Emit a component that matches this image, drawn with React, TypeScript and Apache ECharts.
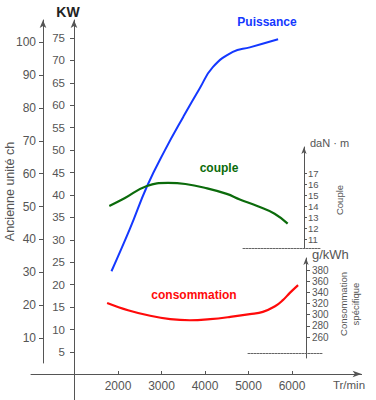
import React, { useEffect, useRef } from "react";
import * as echarts from "echarts";

// ---- data ----
const powerRpm = [1850, 2280, 2670, 3080, 3500, 3880, 4180, 4640, 5030, 5680];
const powerKw = [23.0, 32.6, 42.0, 50.0, 57.4, 63.8, 68.5, 71.9, 72.9, 74.7];

const torqueRpm = [1800, 2150, 2650, 3150, 3550, 4050, 4500, 4800, 5200, 5600, 5900];
const torqueDaNm = [14.0, 14.7, 15.8, 16.1, 16.0, 15.6, 15.1, 14.6, 14.0, 13.3, 12.4];

const consRpm = [1750, 2230, 2740, 3200, 3650, 4120, 4580, 5030, 5330, 5610, 5790, 5950, 6140];
const consGkwh = [321, 308, 298, 292, 290, 292, 296, 301, 305, 315, 326, 339, 353];

const rpmTicks = [2000, 3000, 4000, 5000, 6000];
const kwTicks = [5, 10, 15, 20, 25, 30, 35, 40, 45, 50, 55, 60, 65, 70, 75];
const chTicks = [10, 20, 30, 40, 50, 60, 70, 80, 90, 100];
const torqueTicks = [11, 12, 13, 14, 15, 16, 17];
const consTicks = [260, 280, 300, 320, 340, 360, 380];

// ---- layout ----
const FONT = "'Liberation Sans', Arial, sans-serif";
const AXIS_COLOR = "#555";
const TEXT_COLOR = "#555";
const GRID_LEFT = 31;
const GRID_WIDTH = 330.6;
const RPM_MAX = 7600;
const PX_PER_RPM = GRID_WIDTH / RPM_MAX;
const TORQUE_AXIS_X = 304;
const CONS_AXIS_X = 306;

function yRange(topPx: number, bottomPx: number, zeroPx: number, pxPerUnit: number) {
  return { min: (zeroPx - bottomPx) / pxPerUnit, max: (zeroPx - topPx) / pxPerUnit };
}

const hiddenX = (gridIndex: number, max: number) => ({
  type: "value",
  gridIndex,
  min: 0,
  max,
  show: false,
  axisLine: { onZero: false },
  splitLine: { show: false },
});

const hiddenY = (gridIndex: number) => ({
  type: "value",
  gridIndex,
  min: 0,
  max: 1,
  show: false,
  axisLine: { onZero: false },
  splitLine: { show: false },
});

const arrowLine = (size: number[]) => ({
  show: true,
  onZero: false,
  symbol: ["none", "arrow"],
  symbolSize: size,
  lineStyle: { color: AXIS_COLOR, width: 1 },
});

const textStyle = (text: string, font: string, fill: string, align = "center") => ({
  text,
  font,
  fill,
  align,
  verticalAlign: "middle",
  textAlign: align,
  textVerticalAlign: "middle",
});

export default function App() {
  const ref = useRef<HTMLDivElement>(null);

  useEffect(() => {
    if (!ref.current) return;
    const chart = echarts.init(ref.current, undefined, { renderer: "svg" });

    const kwR = yRange(20, 400, 374.4, 4.486);
    const chR = yRange(20, 363, 371, 3.289);
    const tqR = yRange(147, 248, 360, 11);
    const csR = yRange(258, 358, 482.17, 0.5583);

    const tqWidth = TORQUE_AXIS_X - GRID_LEFT;
    const csWidth = CONS_AXIS_X - GRID_LEFT;

    const baseGrid = { left: GRID_LEFT, outerBoundsMode: "none", containLabel: false };

    const option: any = {
      animation: false,
      textStyle: { fontFamily: FONT },
      grid: [
        { ...baseGrid, width: GRID_WIDTH, top: 300, height: 74 }, // 0: rpm axis
        { ...baseGrid, width: GRID_WIDTH, top: 20, height: 380 }, // 1: kW
        { ...baseGrid, width: GRID_WIDTH, top: 20, height: 343 }, // 2: ch
        { ...baseGrid, width: tqWidth, top: 147, height: 101 }, // 3: torque
        { ...baseGrid, width: csWidth, top: 258, height: 100 }, // 4: consumption
        { left: 243, width: 77, top: 247, height: 1, outerBoundsMode: "none" }, // 5
        { left: 248, width: 74, top: 352, height: 1, outerBoundsMode: "none" }, // 6
      ],
      xAxis: [
        {
          type: "value",
          gridIndex: 0,
          min: 0,
          max: RPM_MAX,
          axisLine: arrowLine([5, 9]),
          axisTick: { show: true, inside: true, length: 3, customValues: rpmTicks, lineStyle: { color: AXIS_COLOR } },
          axisLabel: {
            customValues: rpmTicks,
            formatter: (v: number) => String(v),
            margin: 6,
            fontSize: 12,
            color: TEXT_COLOR,
            fontFamily: FONT,
          },
          splitLine: { show: false },
        },
        hiddenX(1, RPM_MAX),
        hiddenX(2, RPM_MAX),
        hiddenX(3, tqWidth / PX_PER_RPM),
        hiddenX(4, csWidth / PX_PER_RPM),
        {
          type: "value",
          gridIndex: 5,
          min: 0,
          max: 1,
          axisLine: { show: true, onZero: false, lineStyle: { color: "#666", width: 1, type: [2, 1] } },
          axisTick: { show: false },
          axisLabel: { show: false },
          splitLine: { show: false },
        },
        {
          type: "value",
          gridIndex: 6,
          min: 0,
          max: 1,
          axisLine: { show: true, onZero: false, lineStyle: { color: "#666", width: 1, type: [2, 1] } },
          axisTick: { show: false },
          axisLabel: { show: false },
          splitLine: { show: false },
        },
      ],
      yAxis: [
        hiddenY(0),
        {
          type: "value",
          gridIndex: 1,
          position: "left",
          offset: -(74 - GRID_LEFT),
          min: kwR.min,
          max: kwR.max,
          axisLine: arrowLine([5, 8]),
          axisTick: { show: true, length: 4, customValues: kwTicks, lineStyle: { color: AXIS_COLOR } },
          axisLabel: { customValues: kwTicks, margin: 9, fontSize: 11.5, color: TEXT_COLOR, fontFamily: FONT },
          splitLine: { show: false },
        },
        {
          type: "value",
          gridIndex: 2,
          position: "left",
          offset: -(43 - GRID_LEFT),
          min: chR.min,
          max: chR.max,
          name: "Ancienne unité ch",
          nameLocation: "middle",
          nameRotate: 90,
          nameGap: 27,
          nameMoveOverlap: false,
          nameTextStyle: { fontSize: 12.5, color: TEXT_COLOR, fontFamily: FONT },
          axisLine: arrowLine([5, 8]),
          axisTick: { show: true, length: 4, customValues: chTicks, lineStyle: { color: AXIS_COLOR } },
          axisLabel: { customValues: chTicks, margin: 7, fontSize: 12, color: TEXT_COLOR, fontFamily: FONT },
          splitLine: { show: false },
        },
        {
          type: "value",
          gridIndex: 3,
          position: "right",
          min: tqR.min,
          max: tqR.max,
          axisLine: arrowLine([4, 7]),
          axisTick: { show: true, length: 3, customValues: torqueTicks, lineStyle: { color: AXIS_COLOR } },
          axisLabel: { customValues: torqueTicks, margin: 4, fontSize: 9.5, color: TEXT_COLOR, fontFamily: FONT },
          splitLine: { show: false },
        },
        {
          type: "value",
          gridIndex: 4,
          position: "right",
          min: csR.min,
          max: csR.max,
          axisLine: arrowLine([4, 7]),
          axisTick: { show: true, length: 4, customValues: consTicks, lineStyle: { color: AXIS_COLOR } },
          axisLabel: { customValues: consTicks, margin: 6, fontSize: 10, color: TEXT_COLOR, fontFamily: FONT },
          splitLine: { show: false },
        },
        hiddenY(5),
        hiddenY(6),
      ],
      series: [
        {
          name: "Puissance",
          type: "line",
          xAxisIndex: 1,
          yAxisIndex: 1,
          data: powerRpm.map((r, i) => [r, powerKw[i]]),
          smooth: 0.45,
          symbol: "none",
          lineStyle: { color: "#1438ff", width: 2 },
          silent: true,
        },
        {
          name: "couple",
          type: "line",
          xAxisIndex: 3,
          yAxisIndex: 3,
          data: torqueRpm.map((r, i) => [r, torqueDaNm[i]]),
          smooth: 0.45,
          symbol: "none",
          lineStyle: { color: "#0b6b0b", width: 2.2 },
          silent: true,
        },
        {
          name: "consommation",
          type: "line",
          xAxisIndex: 4,
          yAxisIndex: 4,
          data: consRpm.map((r, i) => [r, consGkwh[i]]),
          smooth: 0.4,
          symbol: "none",
          lineStyle: { color: "#ff0a0a", width: 2.2 },
          silent: true,
        },
      ],
      graphic: [
        { type: "text", x: 68, y: 12, style: textStyle("KW", `bold 14px ${FONT}`, "#222") },
        { type: "text", x: 267, y: 22, style: textStyle("Puissance", `bold 12px ${FONT}`, "#1438ff") },
        { type: "text", x: 219, y: 168, style: textStyle("couple", `bold 12px ${FONT}`, "#0b6b0b") },
        { type: "text", x: 194, y: 295, style: textStyle("consommation", `bold 12px ${FONT}`, "#ff0a0a") },
        { type: "text", x: 310, y: 143, style: textStyle("daN · m", `11px ${FONT}`, TEXT_COLOR, "left") },
        { type: "text", x: 312, y: 254, style: textStyle("g/kWh", `13px ${FONT}`, TEXT_COLOR, "left") },
        { type: "text", x: 339, y: 200, rotation: Math.PI / 2, style: textStyle("Couple", `9.5px ${FONT}`, TEXT_COLOR) },
        { type: "text", x: 343, y: 304, rotation: Math.PI / 2, style: textStyle("Consommation", `9.5px ${FONT}`, TEXT_COLOR) },
        { type: "text", x: 355, y: 304, rotation: Math.PI / 2, style: textStyle("spécifique", `9.5px ${FONT}`, TEXT_COLOR) },
        { type: "text", x: 349, y: 385, style: textStyle("Tr/min", `11.5px ${FONT}`, TEXT_COLOR) },
      ],
    };

    chart.setOption(option);
    return () => {
      chart.dispose();
    };
  }, []);

  return (
    <div
      ref={ref}
      style={{ position: "fixed", left: 0, top: 0, width: 376, height: 400, background: "#fff" }}
    />
  );
}
